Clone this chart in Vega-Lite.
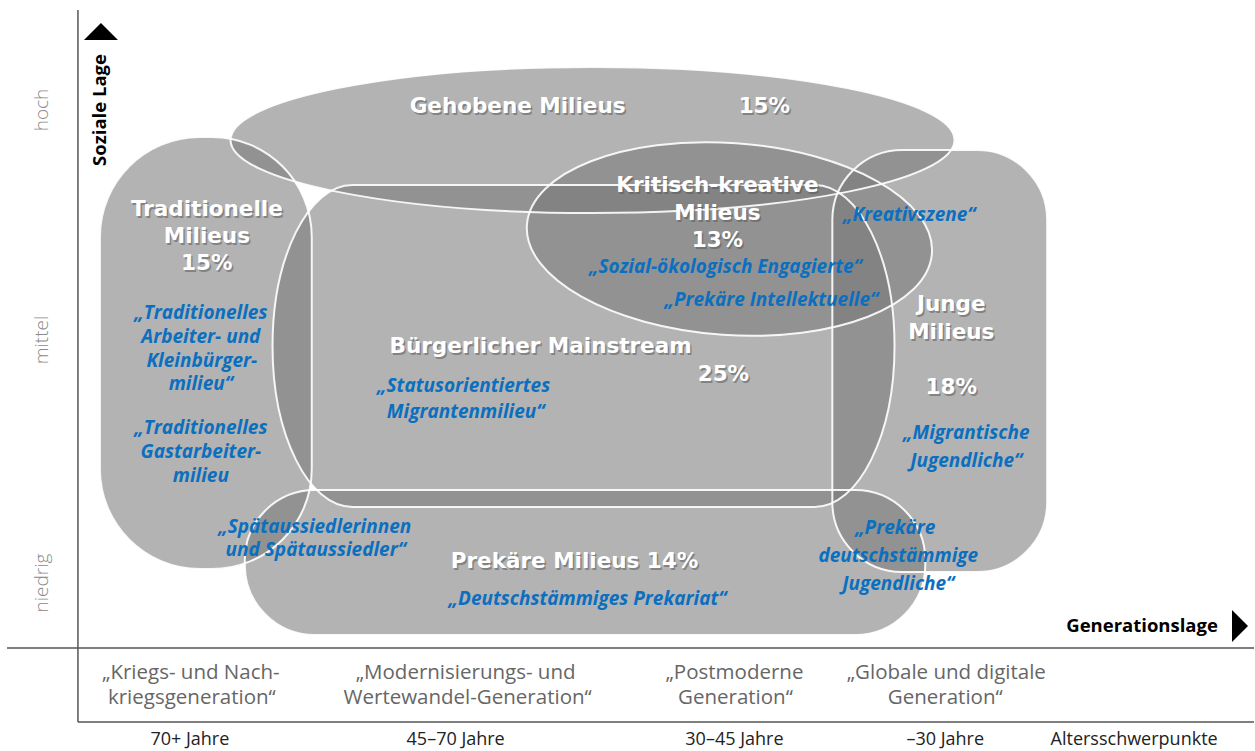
{
  "$schema": "https://vega.github.io/schema/vega-lite/v6.json",
  "width": 1255,
  "height": 751,
  "autosize": {"type": "fit", "contains": "padding"},
  "padding": 0,
  "background": "white",
  "config": {"view": {"stroke": null}},
  "datasets": {
    "rects": [
      {"name": "Traditionelle Milieus", "x": 100, "x2": 312, "y": 137, "y2": 569, "corner": "big"},
      {"name": "Junge Milieus", "x": 833, "x2": 1048, "y": 150, "y2": 572, "corner": "mid"},
      {"name": "Prekäre Milieus", "x": 245, "x2": 926, "y": 490, "y2": 635, "corner": "mid"}
    ],
    "symbols": [
      {"name": "Gehobene Milieus", "x": 593, "y": 140},
      {"name": "Bürgerlicher Mainstream", "x": 584, "y": 346},
      {"name": "Kritisch-kreative Milieus", "x": 730, "y": 239}
    ],
    "lines": [
      {"x": 78, "x2": 78, "y": 10, "y2": 722},
      {"x": 7, "x2": 1255, "y": 648, "y2": 648},
      {"x": 78, "x2": 1255, "y": 722, "y2": 722}
    ],
    "arrows": [
      {"dir": "up", "x": 101, "y": 31.5},
      {"dir": "right", "x": 1241, "y": 626}
    ],
    "labels": [
      {"kind": "title", "text": "Gehobene Milieus", "x": 518, "y": 107},
      {"kind": "title", "text": "15%", "x": 765, "y": 107},
      {"kind": "title", "text": "Kritisch-kreative", "x": 718, "y": 186},
      {"kind": "title", "text": "Milieus", "x": 718, "y": 214},
      {"kind": "title", "text": "13%", "x": 718, "y": 241},
      {"kind": "title", "text": "Traditionelle", "x": 207, "y": 210},
      {"kind": "title", "text": "Milieus", "x": 207, "y": 237},
      {"kind": "title", "text": "15%", "x": 207, "y": 264},
      {"kind": "title", "text": "Bürgerlicher Mainstream", "x": 541, "y": 347},
      {"kind": "title", "text": "25%", "x": 724, "y": 375},
      {"kind": "title", "text": "Junge", "x": 952, "y": 305},
      {"kind": "title", "text": "Milieus", "x": 952, "y": 333},
      {"kind": "title", "text": "18%", "x": 952, "y": 388},
      {"kind": "title", "text": "Prekäre Milieus 14%", "x": 575, "y": 562},
      {"kind": "note", "text": "„Traditionelles", "x": 201, "y": 313},
      {"kind": "note", "text": "Arbeiter- und", "x": 201, "y": 337},
      {"kind": "note", "text": "Kleinbürger-", "x": 202, "y": 361},
      {"kind": "note", "text": "milieu“", "x": 201, "y": 384},
      {"kind": "note", "text": "„Traditionelles", "x": 201, "y": 428},
      {"kind": "note", "text": "Gastarbeiter-", "x": 201, "y": 452},
      {"kind": "note", "text": "milieu", "x": 201, "y": 476},
      {"kind": "note", "text": "„Spätaussiedlerinnen", "x": 315, "y": 527},
      {"kind": "note", "text": "und Spätaussiedler“", "x": 316, "y": 550},
      {"kind": "note", "text": "„Statusorientiertes", "x": 464, "y": 386},
      {"kind": "note", "text": "Migrantenmilieu“", "x": 466, "y": 412},
      {"kind": "note", "text": "„Sozial-ökologisch Engagierte“", "x": 726, "y": 267},
      {"kind": "note", "text": "„Prekäre Intellektuelle“", "x": 772, "y": 300},
      {"kind": "note", "text": "„Kreativszene“", "x": 910, "y": 215},
      {"kind": "note", "text": "„Migrantische", "x": 967, "y": 433},
      {"kind": "note", "text": "Jugendliche“", "x": 967, "y": 461},
      {"kind": "note", "text": "„Prekäre", "x": 896, "y": 528},
      {"kind": "note", "text": "deutschstämmige", "x": 899, "y": 556},
      {"kind": "note", "text": "Jugendliche“", "x": 899, "y": 584},
      {"kind": "note", "text": "„Deutschstämmiges Prekariat“", "x": 588, "y": 599},
      {"kind": "gen", "text": "„Kriegs- und Nach-", "x": 191, "y": 673},
      {"kind": "gen", "text": "kriegsgeneration“", "x": 192, "y": 698},
      {"kind": "gen", "text": "„Modernisierungs- und", "x": 466, "y": 673},
      {"kind": "gen", "text": "Wertewandel-Generation“", "x": 468, "y": 698},
      {"kind": "gen", "text": "„Postmoderne", "x": 735, "y": 673},
      {"kind": "gen", "text": "Generation“", "x": 736, "y": 698},
      {"kind": "gen", "text": "„Globale und digitale", "x": 947, "y": 673},
      {"kind": "gen", "text": "Generation“", "x": 946, "y": 698},
      {"kind": "age", "text": "70+ Jahre", "x": 190, "y": 740},
      {"kind": "age", "text": "45–70 Jahre", "x": 456, "y": 740},
      {"kind": "age", "text": "30–45 Jahre", "x": 735, "y": 740},
      {"kind": "age", "text": "–30 Jahre", "x": 946, "y": 740},
      {"kind": "age", "text": "Altersschwerpunkte", "x": 1135, "y": 740},
      {"kind": "level", "text": "hoch", "x": 42, "y": 110},
      {"kind": "level", "text": "mittel", "x": 42, "y": 340},
      {"kind": "level", "text": "niedrig", "x": 42, "y": 583},
      {"kind": "axisV", "text": "Soziale Lage", "x": 100, "y": 110},
      {"kind": "axisH", "text": "Generationslage", "x": 1143, "y": 626}
    ]
  },
  "encoding": {
    "x": {"field": "x", "type": "quantitative", "scale": {"domain": [0, 1255], "nice": false, "zero": false}, "axis": null},
    "y": {"field": "y", "type": "quantitative", "scale": {"domain": [0, 751], "reverse": true, "nice": false, "zero": false}, "axis": null}
  },
  "layer": [
    {
      "data": {"name": "rects"},
      "transform": [{"filter": "datum.corner === 'big'"}],
      "mark": {"type": "rect", "cornerRadius": 100, "fill": "#777777", "fillOpacity": 0.56, "strokeWidth": 0},
      "encoding": {"x2": {"field": "x2"}, "y2": {"field": "y2"}}
    },
    {
      "data": {"name": "rects"},
      "transform": [{"filter": "datum.corner === 'mid'"}],
      "mark": {"type": "rect", "cornerRadius": 70, "fill": "#777777", "fillOpacity": 0.56, "strokeWidth": 0},
      "encoding": {"x2": {"field": "x2"}, "y2": {"field": "y2"}}
    },
    {
      "data": {"name": "symbols"},
      "transform": [{"filter": "datum.name === 'Gehobene Milieus'"}],
      "mark": {"type": "point", "filled": true, "opacity": 1, "fill": "#777777", "fillOpacity": 0.56, "strokeWidth": 0, "size": 524176,
        "shape": "M1,0 C1,0.1114 0.5523,0.2017 0,0.2017 C-0.5523,0.2017 -1,0.1114 -1,0 C-1,-0.1114 -0.5523,-0.2017 0,-0.2017 C0.5523,-0.2017 1,-0.1114 1,0 Z"}
    },
    {
      "data": {"name": "symbols"},
      "transform": [{"filter": "datum.name === 'Bürgerlicher Mainstream'"}],
      "mark": {"type": "point", "filled": true, "opacity": 1, "fill": "#777777", "fillOpacity": 0.56, "strokeWidth": 0, "size": 386884,
        "shape": "M-0.743,-0.5177 L0.743,-0.5177 C0.885,-0.5177 1,-0.2859 1,0 C1,0.2859 0.885,0.5177 0.743,0.5177 L-0.743,0.5177 C-0.885,0.5177 -1,0.2859 -1,0 C-1,-0.2859 -0.885,-0.5177 -0.743,-0.5177 Z"}
    },
    {
      "data": {"name": "symbols"},
      "transform": [{"filter": "datum.name === 'Kritisch-kreative Milieus'"}],
      "mark": {"type": "point", "filled": true, "opacity": 1, "fill": "#777777", "fillOpacity": 0.56, "strokeWidth": 0, "size": 164836, "angle": 4,
        "shape": "M1,0 C1,0.2612 0.5523,0.473 0,0.473 C-0.5523,0.473 -1,0.2612 -1,0 C-1,-0.2612 -0.5523,-0.473 0,-0.473 C0.5523,-0.473 1,-0.2612 1,0 Z"}
    },
    {
      "data": {"name": "rects"},
      "transform": [{"filter": "datum.corner === 'big'"}],
      "mark": {"type": "rect", "cornerRadius": 100, "fillOpacity": 0, "stroke": "white", "strokeWidth": 2, "strokeOpacity": 0.9},
      "encoding": {"x2": {"field": "x2"}, "y2": {"field": "y2"}}
    },
    {
      "data": {"name": "rects"},
      "transform": [{"filter": "datum.corner === 'mid'"}],
      "mark": {"type": "rect", "cornerRadius": 70, "fillOpacity": 0, "stroke": "white", "strokeWidth": 2, "strokeOpacity": 0.9},
      "encoding": {"x2": {"field": "x2"}, "y2": {"field": "y2"}}
    },
    {
      "data": {"name": "symbols"},
      "transform": [{"filter": "datum.name === 'Gehobene Milieus'"}],
      "mark": {"type": "point", "filled": false, "opacity": 1, "stroke": "white", "strokeWidth": 2, "strokeOpacity": 0.9, "size": 524176,
        "shape": "M1,0 C1,0.1114 0.5523,0.2017 0,0.2017 C-0.5523,0.2017 -1,0.1114 -1,0 C-1,-0.1114 -0.5523,-0.2017 0,-0.2017 C0.5523,-0.2017 1,-0.1114 1,0 Z"}
    },
    {
      "data": {"name": "symbols"},
      "transform": [{"filter": "datum.name === 'Bürgerlicher Mainstream'"}],
      "mark": {"type": "point", "filled": false, "opacity": 1, "stroke": "white", "strokeWidth": 2, "strokeOpacity": 0.9, "size": 386884,
        "shape": "M-0.743,-0.5177 L0.743,-0.5177 C0.885,-0.5177 1,-0.2859 1,0 C1,0.2859 0.885,0.5177 0.743,0.5177 L-0.743,0.5177 C-0.885,0.5177 -1,0.2859 -1,0 C-1,-0.2859 -0.885,-0.5177 -0.743,-0.5177 Z"}
    },
    {
      "data": {"name": "symbols"},
      "transform": [{"filter": "datum.name === 'Kritisch-kreative Milieus'"}],
      "mark": {"type": "point", "filled": false, "opacity": 1, "stroke": "white", "strokeWidth": 2, "strokeOpacity": 0.9, "size": 164836, "angle": 4,
        "shape": "M1,0 C1,0.2612 0.5523,0.473 0,0.473 C-0.5523,0.473 -1,0.2612 -1,0 C-1,-0.2612 -0.5523,-0.473 0,-0.473 C0.5523,-0.473 1,-0.2612 1,0 Z"}
    },
    {
      "data": {"name": "lines"},
      "mark": {"type": "rule", "color": "#555555", "strokeWidth": 1.5},
      "encoding": {"x2": {"field": "x2"}, "y2": {"field": "y2"}}
    },
    {
      "data": {"name": "arrows"},
      "transform": [{"filter": "datum.dir === 'up'"}],
      "mark": {"type": "point", "filled": true, "opacity": 1, "fill": "black", "strokeWidth": 0, "size": 1156, "shape": "M0,-0.5 L1,0.5 L-1,0.5 Z"}
    },
    {
      "data": {"name": "arrows"},
      "transform": [{"filter": "datum.dir === 'right'"}],
      "mark": {"type": "point", "filled": true, "opacity": 1, "fill": "black", "strokeWidth": 0, "size": 1024, "shape": "M-0.5,-1 L0.5,0 L-0.5,1 Z"}
    },
    {
      "data": {"name": "labels"},
      "transform": [{"filter": "datum.kind === 'title'"}],
      "mark": {"type": "text", "font": "DejaVu Sans", "fontWeight": "bold", "fontSize": 21.5, "fill": "#555555", "opacity": 0.5, "align": "center", "baseline": "middle", "dx": 1.5, "dy": 1.5},
      "encoding": {"text": {"field": "text"}}
    },
    {
      "data": {"name": "labels"},
      "transform": [{"filter": "datum.kind === 'title'"}],
      "mark": {"type": "text", "font": "DejaVu Sans", "fontWeight": "bold", "fontSize": 21.5, "fill": "white", "align": "center", "baseline": "middle"},
      "encoding": {"text": {"field": "text"}}
    },
    {
      "data": {"name": "labels"},
      "transform": [{"filter": "datum.kind === 'note'"}],
      "mark": {"type": "text", "font": "Open Sans", "fontWeight": "bold", "fontStyle": "italic", "fontSize": 19, "fill": "#0b6fbf", "align": "center", "baseline": "middle"},
      "encoding": {"text": {"field": "text"}}
    },
    {
      "data": {"name": "labels"},
      "transform": [{"filter": "datum.kind === 'gen'"}],
      "mark": {"type": "text", "font": "Open Sans", "fontWeight": 500, "fontSize": 20.5, "fill": "#666666", "align": "center", "baseline": "middle"},
      "encoding": {"text": {"field": "text"}}
    },
    {
      "data": {"name": "labels"},
      "transform": [{"filter": "datum.kind === 'age'"}],
      "mark": {"type": "text", "font": "Open Sans", "fontSize": 18, "fill": "#222222", "align": "center", "baseline": "middle"},
      "encoding": {"text": {"field": "text"}}
    },
    {
      "data": {"name": "labels"},
      "transform": [{"filter": "datum.kind === 'level'"}],
      "mark": {"type": "text", "font": "Open Sans", "fontWeight": 300, "fontSize": 19, "fill": "#8a8a8a", "align": "center", "baseline": "middle", "angle": 270},
      "encoding": {"text": {"field": "text"}}
    },
    {
      "data": {"name": "labels"},
      "transform": [{"filter": "datum.kind === 'axisV'"}],
      "mark": {"type": "text", "font": "Open Sans", "fontWeight": "bold", "fontSize": 18.5, "fill": "black", "align": "center", "baseline": "middle", "angle": 270},
      "encoding": {"text": {"field": "text"}}
    },
    {
      "data": {"name": "labels"},
      "transform": [{"filter": "datum.kind === 'axisH'"}],
      "mark": {"type": "text", "font": "Open Sans", "fontWeight": "bold", "fontSize": 18.5, "fill": "black", "align": "center", "baseline": "middle"},
      "encoding": {"text": {"field": "text"}}
    }
  ]
}
